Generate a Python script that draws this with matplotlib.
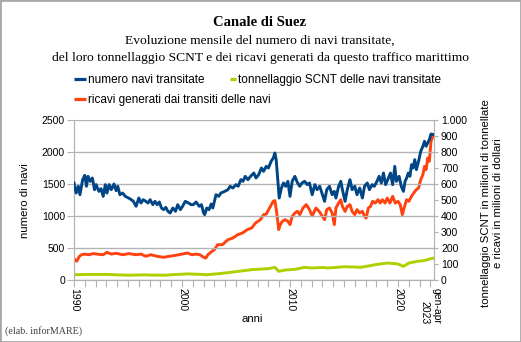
import numpy as np
import matplotlib
matplotlib.use("Agg")
import matplotlib.pyplot as plt
import matplotlib.transforms as mtransforms
from matplotlib.lines import Line2D
from matplotlib.patches import Rectangle

# ==========================================
# Data
# ==========================================
# numero navi transitate (left axis)
ships_x = [1990.0, 1990.2, 1990.4, 1990.55, 1990.8, 1991.0, 1991.15, 1991.3, 1991.5, 1991.7,
           1991.9, 1992.05, 1992.3, 1992.5, 1992.7, 1992.9, 1993.05, 1993.25, 1993.45, 1993.7,
           1993.9, 1994.05, 1994.25, 1994.5, 1994.75, 1995.05, 1995.3, 1995.5, 1995.75, 1996.0,
           1996.2, 1996.4, 1996.65, 1996.85, 1997.05, 1997.3, 1997.5, 1997.7, 1997.9, 1998.1,
           1998.3, 1998.5, 1998.7, 1998.9, 1999.15, 1999.4, 1999.6, 1999.85, 2000.05, 2000.3,
           2000.6, 2000.85, 2001.05, 2001.3, 2001.6, 2001.8, 2002.0, 2002.1, 2002.3, 2002.5,
           2002.7, 2002.85, 2003.15, 2003.4, 2003.6, 2003.95, 2004.25, 2004.45, 2004.7, 2005.0,
           2005.2, 2005.45, 2005.65, 2005.85, 2006.1, 2006.35, 2006.65, 2006.85, 2007.1, 2007.35,
           2007.55, 2007.8, 2008.0, 2008.25, 2008.45, 2008.6, 2008.72, 2008.9, 2009.0, 2009.2,
           2009.4, 2009.6, 2009.8, 2010.0, 2010.2, 2010.45, 2010.7, 2010.9, 2011.1, 2011.35,
           2011.6, 2011.8, 2012.05, 2012.3, 2012.5, 2012.75, 2013.0, 2013.2, 2013.4, 2013.65,
           2013.9, 2014.1, 2014.25, 2014.5, 2014.7, 2014.85, 2015.1, 2015.3, 2015.55, 2015.75,
           2016.0, 2016.2, 2016.45, 2016.7, 2016.9, 2017.15, 2017.35, 2017.6, 2017.8, 2018.05,
           2018.25, 2018.45, 2018.65, 2018.85, 2019.05, 2019.3, 2019.5, 2019.7, 2019.85, 2020.1,
           2020.3, 2020.5, 2020.65, 2020.8, 2020.95, 2021.1, 2021.25, 2021.4, 2021.55, 2021.7,
           2021.9, 2022.1, 2022.3, 2022.45, 2022.6, 2022.75, 2022.9, 2023.05, 2023.3]
ships = [1516, 1359, 1464, 1333, 1568, 1635, 1464, 1620, 1542, 1594,
         1411, 1490, 1385, 1427, 1307, 1490, 1359, 1490, 1411, 1500,
         1396, 1464, 1333, 1359, 1307, 1281, 1255, 1229, 1151, 1281,
         1203, 1255, 1229, 1203, 1255, 1177, 1229, 1177, 1219, 1125,
         1099, 1135, 1073, 1047, 1125, 1073, 1177, 1099, 1151, 1229,
         1203, 1177, 1177, 1219, 1151, 1177, 1047, 1021, 1125, 1099,
         1187, 1125, 1333, 1307, 1359, 1385, 1411, 1464, 1437, 1490,
         1464, 1568, 1542, 1620, 1568, 1620, 1672, 1594, 1646, 1750,
         1698, 1776, 1750, 1854, 1906, 1984, 1880, 1490, 1281, 1437,
         1516, 1464, 1542, 1307, 1542, 1620, 1516, 1464, 1516, 1542,
         1490, 1516, 1333, 1490, 1411, 1464, 1333, 1229, 1411, 1464,
         1333, 1385, 1281, 1464, 1542, 1411, 1229, 1411, 1568, 1411,
         1464, 1333, 1437, 1281, 1464, 1516, 1411, 1490, 1464, 1542,
         1620, 1516, 1672, 1490, 1568, 1672, 1490, 1776, 1542, 1620,
         1464, 1385, 1542, 1594, 1672, 1620, 1802, 1750, 1880, 1724,
         1854, 2010, 2089, 2167, 2089, 2141, 2193, 2281, 2271]

# ricavi generati dai transiti (right axis, milioni di dollari)
rev_x = [1990.0, 1990.25, 1990.5, 1990.7, 1991.0, 1991.4, 1991.8, 1992.1, 1992.7, 1993.05,
         1993.45, 1993.9, 1994.5, 1995.1, 1995.7, 1996.2, 1996.65, 1997.1, 1997.7, 1998.3,
         1998.8, 1999.4, 2000.0, 2000.5, 2000.9, 2001.3, 2001.65, 2002.0, 2002.2, 2002.4,
         2002.7, 2003.0, 2003.3, 2003.75, 2004.25, 2004.7, 2005.15, 2005.6, 2006.05, 2006.45,
         2006.8, 2007.25, 2007.55, 2007.8, 2008.1, 2008.45, 2008.6, 2008.75, 2008.95, 2009.1,
         2009.3, 2009.55, 2009.8, 2010.0, 2010.2, 2010.45, 2010.7, 2010.9, 2011.2, 2011.5,
         2011.8, 2012.05, 2012.4, 2012.7, 2013.0, 2013.2, 2013.4, 2013.65, 2013.9, 2014.1,
         2014.25, 2014.5, 2014.7, 2014.85, 2015.1, 2015.3, 2015.55, 2015.75, 2016.0, 2016.2,
         2016.45, 2016.7, 2016.9, 2017.05, 2017.25, 2017.45, 2017.65, 2017.9, 2018.15, 2018.35,
         2018.55, 2018.8, 2019.0, 2019.25, 2019.5, 2019.75, 2020.0, 2020.2, 2020.4, 2020.6,
         2020.8, 2021.0, 2021.25, 2021.45, 2021.7, 2021.9, 2022.1, 2022.3, 2022.45, 2022.6,
         2022.75, 2022.9, 2023.05, 2023.3]
revenue = [133, 117, 148, 158, 162, 158, 165, 162, 158, 173,
           162, 167, 158, 165, 158, 162, 148, 158, 148, 142,
           148, 154, 162, 169, 158, 162, 158, 142, 137, 158,
           175, 190, 221, 221, 252, 262, 283, 294, 315, 325,
           356, 377, 408, 412, 450, 492, 496, 429, 315, 346,
           367, 377, 367, 346, 398, 419, 429, 408, 450, 471,
           440, 400, 450, 429, 398, 377, 440, 450, 419, 346,
           450, 481, 502, 460, 429, 460, 471, 429, 408, 440,
           419, 429, 398, 387, 450, 460, 492, 481, 502, 481,
           502, 481, 512, 481, 523, 481, 492, 471, 408, 460,
           502, 492, 523, 544, 565, 575, 627, 658, 710, 690,
           762, 742, 867, 908]

# tonnellaggio SCNT (right axis, milioni di tonnellate)
ton_x = [1990.0, 1991.5, 1993.0, 1994.5, 1995.0, 1996.5, 1997.0, 1998.5, 1999.0, 2000.5,
         2001.5, 2002.3, 2003.5, 2004.0, 2005.2, 2006.5, 2007.3, 2008.0, 2008.6, 2008.95,
         2009.5, 2010.5, 2011.35, 2012.0, 2013.0, 2013.5, 2014.5, 2015.0, 2016.0, 2016.5,
         2017.3, 2017.9, 2019.0, 2019.6, 2020.0, 2020.5, 2021.0, 2021.8, 2022.4, 2022.9, 2023.3]
tonnage = [33, 35, 35, 31, 30, 32, 31, 30, 33, 38,
           36, 33, 40, 44, 54, 65, 68, 71, 79, 54,
           62, 67, 79, 75, 78, 75, 80, 83, 81, 79,
           88, 96, 106, 103, 100, 85, 106, 117, 121, 131, 137]

year_ticks = list(range(1990, 2024))
year_labels = [str(y) if y % 10 == 0 else "" for y in year_ticks]
year_labels[-1] = "gen-apr\n2023"

BLUE, RED, GREEN = "#004586", "#ff420e", "#aecf00"
GRID = "#b3b3b3"

plt.rcParams["font.family"] = ["Liberation Sans", "DejaVu Sans"]
W, H = 521, 342

# ==========================================
# Figure
# ==========================================
fig = plt.figure(figsize=(W / 100, H / 100), dpi=100)
ax = fig.add_axes([74 / W, 1 - 280 / H, 360 / W, 160 / H])
ax2 = ax.twinx()

ax2.plot(ton_x, tonnage, color=GREEN, lw=2.1)
ax2.plot(rev_x, revenue, color=RED, lw=2.1)
ax.plot(ships_x, ships, color=BLUE, lw=2.1, zorder=3)
ax.set_zorder(ax2.get_zorder() + 1)
ax.patch.set_visible(False)

ax.set_xlim(1990, 2023.33)
ax.set_ylim(0, 2500)
ax2.set_ylim(0, 1000)

ax.set_yticks(range(0, 2501, 500))
ax.yaxis.grid(True, color=GRID, lw=1)
ax.set_axisbelow(True)
ax2.set_yticks(range(0, 1001, 100))
ax2.set_yticklabels([f"{v:,}".replace(",", ".") for v in range(0, 1001, 100)])

ax.set_xticks(year_ticks)
ax.set_xticklabels(year_labels, rotation=270)
shift = mtransforms.ScaledTranslation(3.5 / 100, 0, fig.dpi_scale_trans)
for lab in ax.get_xticklabels():
    lab.set_transform(lab.get_transform() + shift)
    lab.set_multialignment("right")

for a in (ax, ax2):
    for s in a.spines.values():
        s.set_color(GRID)
    a.spines["top"].set_visible(False)
ax.tick_params(axis="x", length=5, color=GRID, labelsize=7.5, pad=1)
ax.tick_params(axis="y", length=5, color=GRID, labelsize=7.5, pad=1.5)
ax2.tick_params(axis="y", length=3, color=GRID, labelsize=7.5, pad=2)

# titles
fig.text(260 / W, 1 - 25.5 / H, "Canale di Suez", family="Liberation Serif",
         weight="bold", size=10.5, ha="center", va="baseline")
fig.text(260 / W, 1 - 44 / H, "Evoluzione mensile del numero di navi transitate,",
         family="Liberation Serif", size=9.7, ha="center", va="baseline")
fig.text(260 / W, 1 - 61 / H,
         "del loro tonnellaggio SCNT e dei ricavi generati da questo traffico marittimo",
         family="Liberation Serif", size=9.7, ha="center", va="baseline")

# legend drawn as LibreOffice lays it out
legend_items = [(74, 86, 88, 79, 83, BLUE, "numero navi transitate"),
                (230, 236, 238, 79, 83, GREEN, "tonnellaggio SCNT delle navi transitate"),
                (74, 86, 88, 99, 102.7, RED, "ricavi generati dai transiti delle navi")]
for x0, x1, xt, ym, yb, c, txt in legend_items:
    fig.add_artist(Line2D([x0 / W, x1 / W], [1 - ym / H, 1 - ym / H], color=c, lw=2.3,
                          solid_capstyle="butt", transform=fig.transFigure))
    fig.text(xt / W, 1 - yb / H, txt, size=8.5, ha="left", va="baseline")

# axis titles
fig.text(25 / W, 1 - 201 / H, "numero di navi", size=8.2, rotation=90, ha="center", va="center")
fig.text(492 / W, 1 - 203 / H, "tonnellaggio SCNT in milioni di tonnellate\ne ricavi in milioni di dollari",
         size=8.2, rotation=90, ha="center", va="center", linespacing=1.2)
fig.text(252 / W, 1 - 319 / H, "anni", size=8.2, ha="center", va="center")
fig.text(5 / W, 1 - 334 / H, "(elab. inforMARE)", family="Liberation Serif", size=7.2,
         color="#404040", ha="left", va="baseline")

fig.add_artist(Rectangle((0, 0), 1, 1, transform=fig.transFigure, fill=False,
                         ec="#a8a8a8", lw=2))

fig.savefig("out.png", dpi=100)
